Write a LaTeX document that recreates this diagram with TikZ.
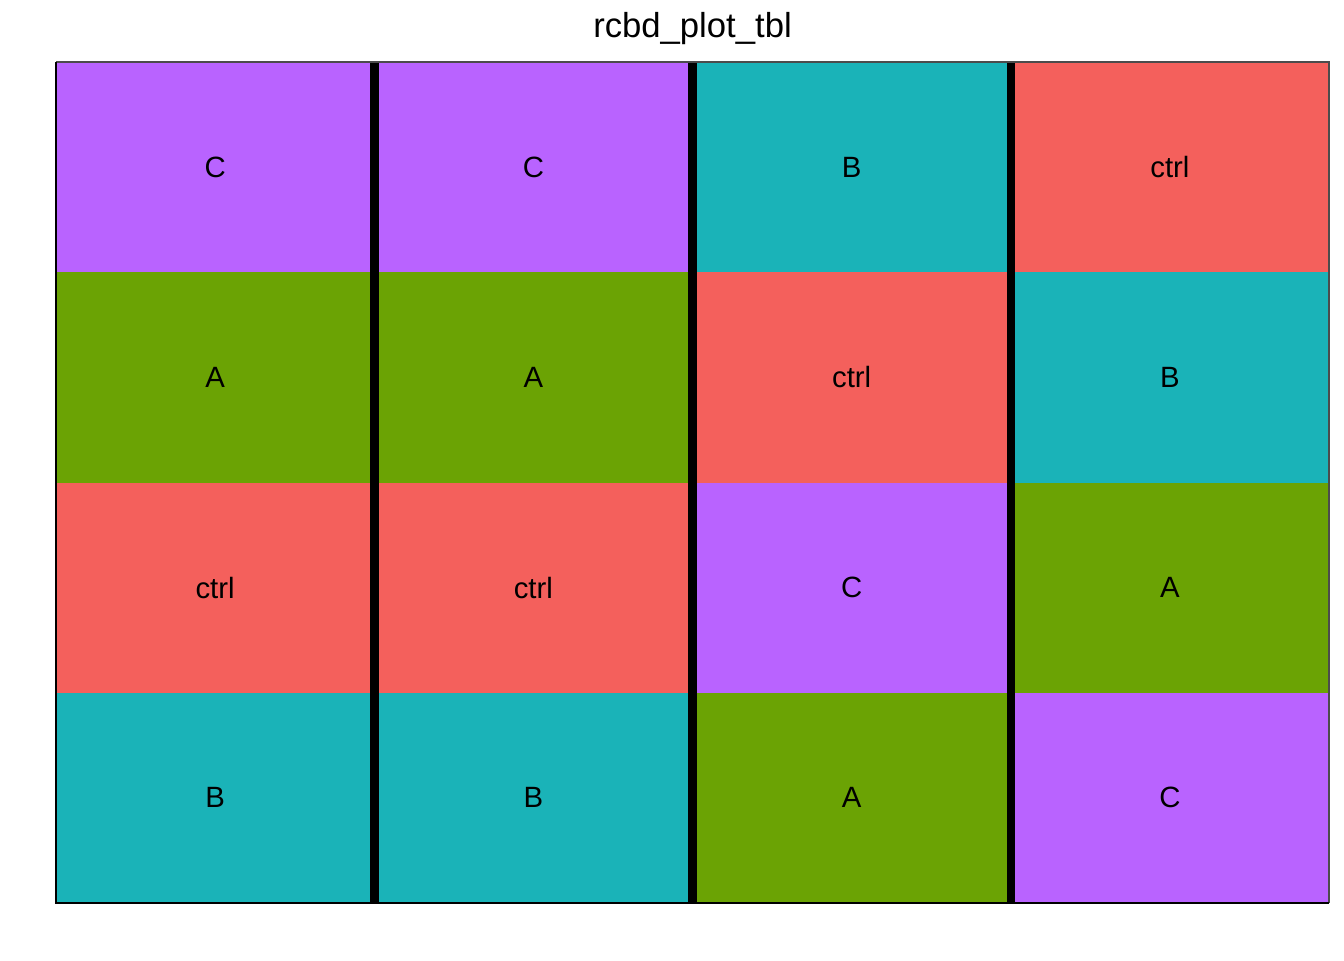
\documentclass[tikz,border=0pt]{standalone}
\usepackage{fontspec}
\setmainfont{Liberation Sans}
\definecolor{cctrl}{HTML}{F4605C}
\definecolor{cA}{HTML}{6BA304}
\definecolor{cB}{HTML}{1AB3B8}
\definecolor{cC}{HTML}{B963FF}
\begin{document}
\begin{tikzpicture}[x=0.75pt,y=-0.75pt,
  cell/.style={minimum width=318.25*0.75pt,minimum height=210.25*0.75pt,inner sep=0pt,outer sep=0pt,font=\fontsize{22}{26}\selectfont,anchor=center},
  sep/.style={line width=6.5pt},
  edge/.style={line width=2.2pt,black}]
\useasboundingbox (0,0) rectangle (1344,960);
\def\cw{318.25}
\def\rh{210.25}
\foreach \c/\lst in {0/{C,A,ctrl,B},1/{C,A,ctrl,B},2/{B,ctrl,C,A},3/{ctrl,B,A,C}}{
  \foreach \t [count=\r from 0] in \lst {
    \pgfmathsetmacro{\cx}{56+\cw*\c+\cw/2}
    \pgfmathsetmacro{\cy}{62+\rh*\r+\rh/2}
    \ifnum\pdfstrcmp{\t}{ctrl}=0 \def\col{cctrl}\fi
    \ifnum\pdfstrcmp{\t}{A}=0 \def\col{cA}\fi
    \ifnum\pdfstrcmp{\t}{B}=0 \def\col{cB}\fi
    \ifnum\pdfstrcmp{\t}{C}=0 \def\col{cC}\fi
    \node[cell,fill=\col] (n\c\r) at (\cx,\cy) {\raisebox{-0.75pt}{\t}};
  }
}
\draw[sep] (374.5,62) -- (374.5,903);
\draw[sep] (692.75,62) -- (692.75,903);
\draw[sep] (1011,62) -- (1011,903);
\draw[line width=0.8pt,black!70] (56,62) -- (1329,62) -- (1329,903);
\draw[edge] (56,62) -- (56,903) -- (1329,903);
\node[font=\fontsize{26}{30}\selectfont] (title) at (692.5,29) {rcbd\_plot\_tbl};
\end{tikzpicture}
\end{document}
